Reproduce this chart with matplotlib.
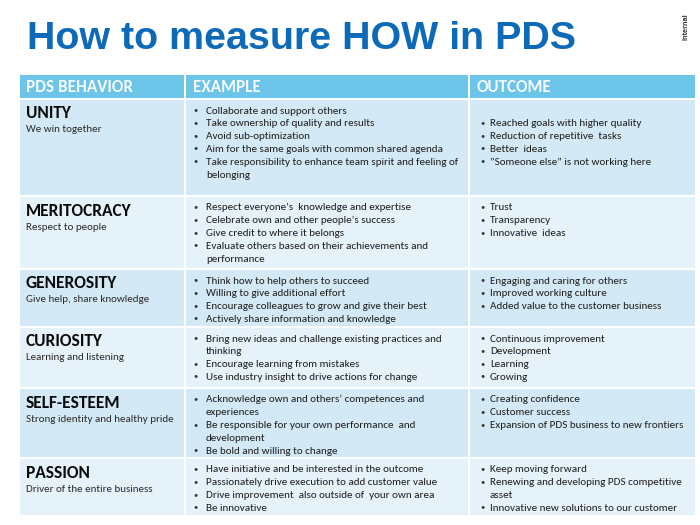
import matplotlib
matplotlib.use("Agg")
import matplotlib.pyplot as plt
from matplotlib.patches import Rectangle
from matplotlib.font_manager import FontProperties, fontManager
from matplotlib.textpath import TextPath

# ---------------- data ----------------
title = "How to measure HOW in PDS"
tag = "Internal"
headers = ["PDS BEHAVIOR", "EXAMPLE", "OUTCOME"]
behaviors = ["UNITY", "MERITOCRACY", "GENEROSITY", "CURIOSITY", "SELF-ESTEEM", "PASSION"]
taglines = ["We win together", "Respect to people", "Give help, share knowledge",
            "Learning and listening", "Strong identity and healthy pride",
            "Driver of the entire business"]
examples = [
    ["Collaborate and support others",
     "Take ownership of quality and results",
     "Avoid sub-optimization",
     "Aim for the same goals with common shared agenda",
     "Take responsibility to enhance team spirit and feeling of\nbelonging"],
    ["Respect everyone\u2019s  knowledge and expertise",
     "Celebrate own and other people\u2019s success",
     "Give credit to where it belongs",
     "Evaluate others based on their achievements and\nperformance"],
    ["Think how to help others to succeed",
     "Willing to give additional effort",
     "Encourage colleagues to grow and give their best",
     "Actively share information and knowledge"],
    ["Bring new ideas and challenge existing practices and\nthinking",
     "Encourage learning from mistakes",
     "Use industry insight to drive actions for change"],
    ["Acknowledge own and others\u2019 competences and\nexperiences",
     "Be responsible for your own performance  and\ndevelopment",
     "Be bold and willing to change"],
    ["Have initiative and be interested in the outcome",
     "Passionately drive execution to add customer value",
     "Drive improvement  also outside of  your own area",
     "Be innovative"],
]
outcomes = [
    ["",
     "Reached goals with higher quality",
     "Reduction of repetitive  tasks",
     "Better  ideas",
     "\u201dSomeone else\u201d is not working here"],
    ["Trust", "Transparency", "Innovative  ideas"],
    ["Engaging and caring for others",
     "Improved working culture",
     "Added value to the customer business"],
    ["Continuous improvement", "Development", "Learning", "Growing"],
    ["Creating confidence", "Customer success",
     "Expansion of PDS business to new frontiers"],
    ["Keep moving forward",
     "Renewing and developing PDS competitive\nasset",
     "Innovative new solutions to our customer"],
]

# ---------------- style / layout ----------------
DPI = 100
W, H = 700, 525
_names = {f.name for f in fontManager.ttflist}
BODY = (["Carlito"] if "Carlito" in _names else []) + ["Lato", "DejaVu Sans"]
TITLEF = ["Liberation Sans", "DejaVu Sans"]
TITLE_COLOR = "#0D6AB8"
HEAD_COLOR = "#6CC4E8"
ROW_DARK = "#D3E9F5"
ROW_LIGHT = "#E5F2F9"
TEXT_COLOR = "#1E1E1E"

col_edges = [19, 185, 469, 696]
header_top, header_bot = 74, 99
row_edges = [99, 196, 269, 327, 388, 458, 516]
line_pitch = 12.9


def fit(text, target_px, family, weight):
    fp = FontProperties(family=family, weight=weight, size=10)
    w = TextPath((0, 0), text, prop=fp).get_extents().width
    return 10 * target_px / (w * DPI / 72.0)


body_size = 1.03 * (fit("Take responsibility to enhance team spirit and feeling of", 251, BODY, "normal")
                    + fit("Respect everyone\u2019s  knowledge and expertise", 195, BODY, "normal")
                    + fit("Expansion of PDS business to new frontiers", 187, BODY, "normal")) / 3
sub_size = 1.03 * (fit("Strong identity and healthy pride", 145, BODY, "normal")
                   + fit("Respect to people", 76, BODY, "normal")
                   + fit("Driver of the entire business", 123, BODY, "normal")) / 3
label_size = 1.12 * (fit("MERITOCRACY", 93, BODY, "bold") + fit("UNITY", 40, BODY, "bold")) / 2
head_size = 1.1 * fit("PDS BEHAVIOR", 96, BODY, "bold")
title_size = fit(title, 546, TITLEF, "bold")

fig = plt.figure(figsize=(W / DPI, H / DPI), dpi=DPI)
fig.patch.set_facecolor("white")
ax = fig.add_axes([0, 0, 1, 1])
ax.set_xlim(0, W)
ax.set_ylim(H, 0)
ax.axis("off")

# title
ax.text(27, 49, title, fontsize=title_size, fontweight="bold", color=TITLE_COLOR,
        family=TITLEF, va="baseline", ha="left")
ax.text(686, 27, tag, fontsize=5.3, fontweight="bold", color="#333333",
        family=TITLEF, rotation=90, va="center", ha="center")

# header
for i, h in enumerate(headers):
    x0, x1 = col_edges[i], col_edges[i + 1]
    ax.add_patch(Rectangle((x0, header_top), x1 - x0, header_bot - header_top,
                           facecolor=HEAD_COLOR, edgecolor="white", lw=1.4))
    ax.text(x0 + 7.5, 92.5, h, fontsize=head_size, fontweight="bold", color="#F4FAFD",
            family=BODY, va="baseline", ha="left")


def draw_bullets(items, xb, xt, top):
    y = top + 14.5
    for it in items:
        if it == "":
            y += line_pitch
            continue
        ax.text(xb + 0.5, y - 1.7, "\u2022", fontsize=body_size * 0.75, color="#333333",
                family=BODY, va="baseline", ha="left")
        for p in it.split("\n"):
            ax.text(xt, y, p, fontsize=body_size, color=TEXT_COLOR,
                    family=BODY, va="baseline", ha="left")
            y += line_pitch


for r in range(len(behaviors)):
    top, bot = row_edges[r], row_edges[r + 1]
    fc = ROW_DARK if r % 2 == 0 else ROW_LIGHT
    for c in range(3):
        x0, x1 = col_edges[c], col_edges[c + 1]
        ax.add_patch(Rectangle((x0, top), x1 - x0, bot - top,
                               facecolor=fc, edgecolor="white", lw=1.4))
    ax.text(26, top + 19.5, behaviors[r], fontsize=label_size, fontweight="bold",
            color="#0A0A0A", family=BODY, va="baseline", ha="left")
    ax.text(26, top + 33.5, taglines[r], fontsize=sub_size, color="#2A2A2A",
            family=BODY, va="baseline", ha="left")
    draw_bullets(examples[r], 193, 206, top)
    draw_bullets(outcomes[r], 480, 490, top)

fig.savefig("out.png", dpi=DPI, facecolor="white")
